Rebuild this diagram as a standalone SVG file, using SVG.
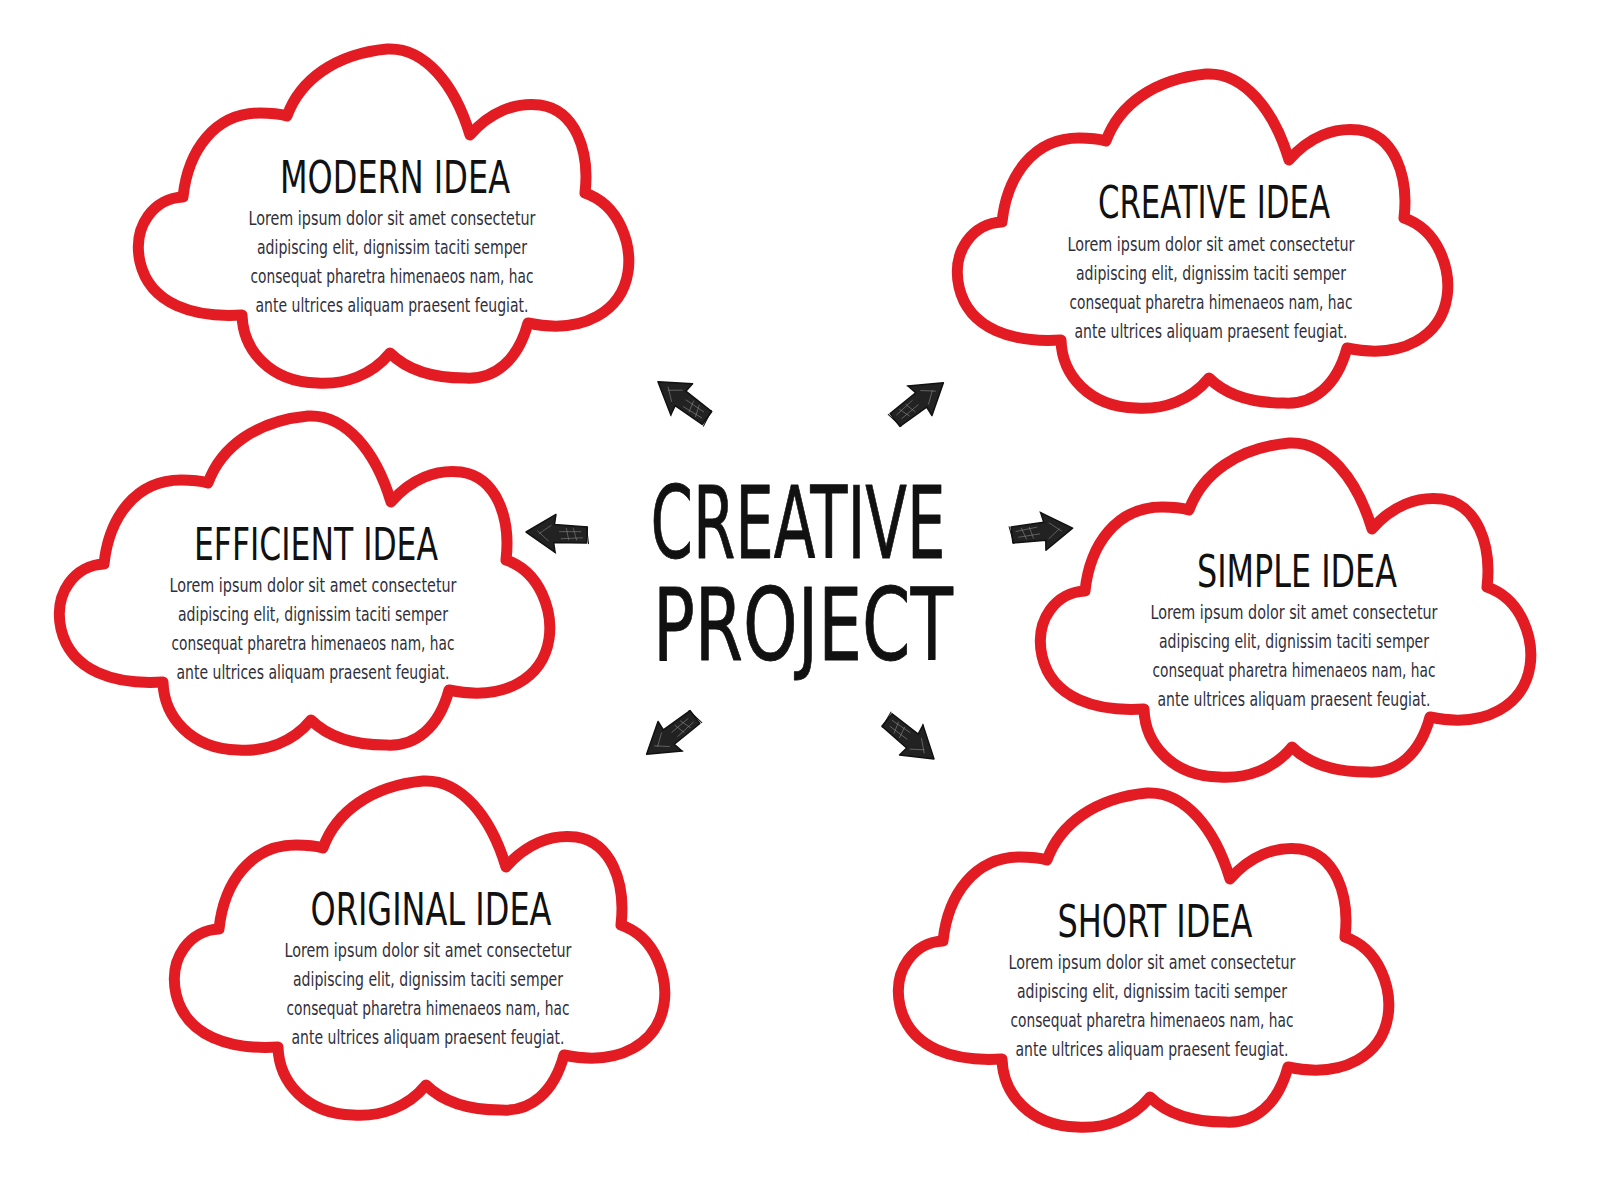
<svg xmlns="http://www.w3.org/2000/svg" xmlns:xlink="http://www.w3.org/1999/xlink" width="1600" height="1200" viewBox="0 0 1600 1200">
  <style>
    .cloud { fill: #ffffff; stroke: #e31b23; stroke-width: 11; stroke-linejoin: round; }
    .title { font-family: 'Liberation Sans Narrow', 'DejaVu Sans Condensed', 'Liberation Sans', sans-serif; font-size: 45px; fill: #111111; text-anchor: middle; }
    .body { font-family: 'Liberation Sans Narrow', 'DejaVu Sans Condensed', 'Liberation Sans', sans-serif; font-size: 19px; fill: #2f2f3b; text-anchor: middle; }
    .center { font-family: 'Liberation Sans Narrow', 'DejaVu Sans Condensed', 'Liberation Sans', sans-serif; font-size: 99px; fill: #111111; stroke: #111111; stroke-width: 0.8; stroke-linejoin: round; text-anchor: middle; }
  </style>
  <defs>
    <path id="cloud" d="M287,116 C300,80 335,54 387,49 C425,47 455,85 470,135 C490,112 515,102 540,105 C575,110 590,150 585,193 C620,205 632,245 628,272 C622,310 585,335 528,323 C518,360 495,380 465,378 C430,378 405,368 390,353 C372,375 345,385 317,383 C270,382 243,350 242,315 C195,318 150,305 140,262 C132,225 155,198 183,197 C188,150 215,113 260,113 C270,113 280,114 287,116 Z"/>
    <g id="arrow">
      <path d="M0,-8 L33,-9 L31,-19 L61,0 L32,19 L33,9 L0,8 Z" fill="#222222" stroke="#111111" stroke-width="1.5" stroke-linejoin="round"/>
      <path d="M4,-3 L26,-5 M6,3 L28,2 M10,-6 L14,6 M18,-6 L21,6 M38,-8 L50,2 M36,8 L48,-1" stroke="#8a8a8a" stroke-width="0.8" fill="none" opacity="0.7"/>
      <path d="M-2,-9 L1,9 M30,-20 L33,-17" stroke="#111111" stroke-width="1" fill="none"/>
    </g>
  </defs>
  <rect x="0" y="0" width="1600" height="1200" fill="#ffffff"/>

  <g id="modern-idea" transform="translate(0,0)">
    <use href="#cloud" class="cloud"/>
    <text class="title" x="395" y="193" textLength="230" lengthAdjust="spacingAndGlyphs">MODERN IDEA</text>
    <text class="body" x="392" y="225" textLength="287" lengthAdjust="spacingAndGlyphs">Lorem ipsum dolor sit amet consectetur</text>
    <text class="body" x="392" y="254" textLength="270" lengthAdjust="spacingAndGlyphs">adipiscing elit, dignissim taciti semper</text>
    <text class="body" x="392" y="283" textLength="283" lengthAdjust="spacingAndGlyphs">consequat pharetra himenaeos nam, hac</text>
    <text class="body" x="392" y="312" textLength="273" lengthAdjust="spacingAndGlyphs">ante ultrices aliquam praesent feugiat.</text>
  </g>

  <g id="creative-idea" transform="translate(819,25)">
    <use href="#cloud" class="cloud"/>
    <text class="title" x="395" y="193" textLength="232" lengthAdjust="spacingAndGlyphs">CREATIVE IDEA</text>
    <text class="body" x="392" y="226" textLength="287" lengthAdjust="spacingAndGlyphs">Lorem ipsum dolor sit amet consectetur</text>
    <text class="body" x="392" y="255" textLength="270" lengthAdjust="spacingAndGlyphs">adipiscing elit, dignissim taciti semper</text>
    <text class="body" x="392" y="284" textLength="283" lengthAdjust="spacingAndGlyphs">consequat pharetra himenaeos nam, hac</text>
    <text class="body" x="392" y="313" textLength="273" lengthAdjust="spacingAndGlyphs">ante ultrices aliquam praesent feugiat.</text>
  </g>

  <g id="efficient-idea" transform="translate(-79,367)">
    <use href="#cloud" class="cloud"/>
    <text class="title" x="395" y="193" textLength="244" lengthAdjust="spacingAndGlyphs">EFFICIENT IDEA</text>
    <text class="body" x="392" y="225" textLength="287" lengthAdjust="spacingAndGlyphs">Lorem ipsum dolor sit amet consectetur</text>
    <text class="body" x="392" y="254" textLength="270" lengthAdjust="spacingAndGlyphs">adipiscing elit, dignissim taciti semper</text>
    <text class="body" x="392" y="283" textLength="283" lengthAdjust="spacingAndGlyphs">consequat pharetra himenaeos nam, hac</text>
    <text class="body" x="392" y="312" textLength="273" lengthAdjust="spacingAndGlyphs">ante ultrices aliquam praesent feugiat.</text>
  </g>

  <g id="simple-idea" transform="translate(902,394)">
    <use href="#cloud" class="cloud"/>
    <text class="title" x="395" y="193" textLength="200" lengthAdjust="spacingAndGlyphs">SIMPLE IDEA</text>
    <text class="body" x="392" y="225" textLength="287" lengthAdjust="spacingAndGlyphs">Lorem ipsum dolor sit amet consectetur</text>
    <text class="body" x="392" y="254" textLength="270" lengthAdjust="spacingAndGlyphs">adipiscing elit, dignissim taciti semper</text>
    <text class="body" x="392" y="283" textLength="283" lengthAdjust="spacingAndGlyphs">consequat pharetra himenaeos nam, hac</text>
    <text class="body" x="392" y="312" textLength="273" lengthAdjust="spacingAndGlyphs">ante ultrices aliquam praesent feugiat.</text>
  </g>

  <g id="original-idea" transform="translate(36,732)">
    <use href="#cloud" class="cloud"/>
    <text class="title" x="395" y="193" textLength="241" lengthAdjust="spacingAndGlyphs">ORIGINAL IDEA</text>
    <text class="body" x="392" y="225" textLength="287" lengthAdjust="spacingAndGlyphs">Lorem ipsum dolor sit amet consectetur</text>
    <text class="body" x="392" y="254" textLength="270" lengthAdjust="spacingAndGlyphs">adipiscing elit, dignissim taciti semper</text>
    <text class="body" x="392" y="283" textLength="283" lengthAdjust="spacingAndGlyphs">consequat pharetra himenaeos nam, hac</text>
    <text class="body" x="392" y="312" textLength="273" lengthAdjust="spacingAndGlyphs">ante ultrices aliquam praesent feugiat.</text>
  </g>

  <g id="short-idea" transform="translate(760,744)">
    <use href="#cloud" class="cloud"/>
    <text class="title" x="395" y="193" textLength="195" lengthAdjust="spacingAndGlyphs">SHORT IDEA</text>
    <text class="body" x="392" y="225" textLength="287" lengthAdjust="spacingAndGlyphs">Lorem ipsum dolor sit amet consectetur</text>
    <text class="body" x="392" y="254" textLength="270" lengthAdjust="spacingAndGlyphs">adipiscing elit, dignissim taciti semper</text>
    <text class="body" x="392" y="283" textLength="283" lengthAdjust="spacingAndGlyphs">consequat pharetra himenaeos nam, hac</text>
    <text class="body" x="392" y="312" textLength="273" lengthAdjust="spacingAndGlyphs">ante ultrices aliquam praesent feugiat.</text>
  </g>

  <g id="creative-project">
    <text class="center"><tspan x="798" y="558" textLength="295" lengthAdjust="spacingAndGlyphs">CREATIVE</tspan><tspan x="803" y="660" textLength="300" lengthAdjust="spacingAndGlyphs">PROJECT</tspan></text>
  </g>

  <g id="connectors">
    <use href="#arrow" transform="translate(707,418) rotate(216.5)"/>
    <use href="#arrow" transform="translate(895,420) rotate(-37.5)"/>
    <use href="#arrow" transform="translate(587,535) rotate(182.8)"/>
    <use href="#arrow" transform="translate(1012,535) rotate(-6.5)"/>
    <use href="#arrow" transform="translate(695,717) rotate(142.5)"/>
    <use href="#arrow" transform="translate(887,720) rotate(39.6)"/>
  </g>
</svg>
